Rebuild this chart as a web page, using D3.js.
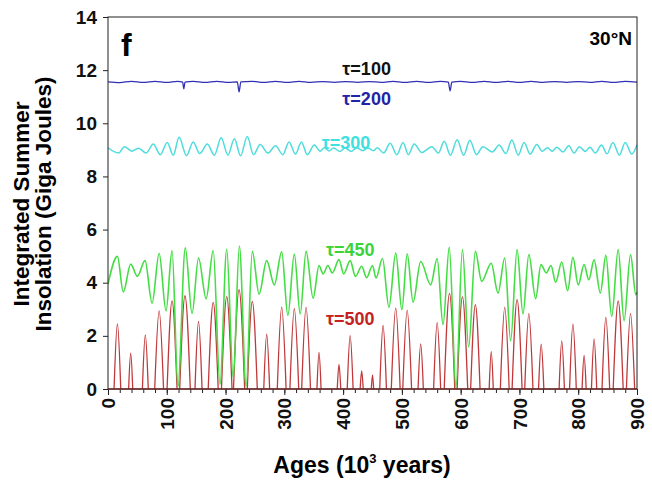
<!DOCTYPE html>
<html>
<head>
<meta charset="utf-8">
<script src="https://cdnjs.cloudflare.com/ajax/libs/d3/7.8.5/d3.min.js"></script>
<style>
    body { margin: 0; background: #fff; }
    text { font-family: "Liberation Sans", Arial, sans-serif; font-weight: bold; }
</style>
</head>
<body>
<div id="chart"></div>
<script>
// tick values
const xTicks = [0, 100, 200, 300, 400, 500, 600, 700, 800, 900];
const xMinorTicks = d3.range(0, 901, 20);
const yTicks = [0, 2, 4, 6, 8, 10, 12, 14];

// tau = 200 (tau = 100 lies under it) : [age, GJ]
const tau200 = [[0,11.56],[20,11.53],[40,11.58],[60,11.54],[80,11.58],[100,11.54],[118,11.58],[127,11.55],[129,11.30],[131,11.55],
    [145,11.58],[165,11.54],[185,11.58],[205,11.54],[220,11.56],[223,11.18],[226,11.56],[245,11.58],[265,11.54],[285,11.58],
    [305,11.54],[325,11.58],[345,11.54],[365,11.57],[385,11.54],[405,11.57],[425,11.54],[445,11.57],[465,11.54],[485,11.58],
    [505,11.54],[525,11.58],[545,11.54],[565,11.58],[579,11.55],[582,11.22],[585,11.55],[600,11.58],[620,11.54],[640,11.58],
    [660,11.54],[680,11.58],[700,11.54],[720,11.58],[740,11.54],[760,11.57],[780,11.54],[800,11.57],[820,11.54],[840,11.58],
    [860,11.54],[880,11.58],[900,11.55]];

// tau = 300 : peaks and troughs [age, GJ]
const tau300 = [[0,9.08],[18,8.88],[28,9.12],[40.6,8.95],[52,9.06],[65,8.88],[77,9.22],[89,8.82],[100.7,9.28],[111,8.80],
    [121,9.47],[133.5,8.78],[145,9.30],[156,8.86],[169,9.22],[181,8.80],[192.5,9.46],[204,8.80],[215,9.42],[225.5,8.78],
    [237,9.50],[247.5,8.82],[259,9.20],[272,8.88],[285,9.15],[297.5,8.82],[308,9.30],[319,8.84],[329,9.30],[339,8.82],
    [351,9.18],[361,8.95],[368,9.08],[376,8.96],[383.6,9.07],[395,8.94],[403,9.08],[414,8.94],[423,9.08],[433.6,8.97],
    [442,9.07],[452,8.97],[458,9.08],[469,8.88],[480,9.25],[491.5,8.82],[502,9.28],[511,8.82],[521,9.22],[534,8.90],
    [551,9.12],[562,8.88],[572,9.32],[582.6,8.80],[594,9.38],[605,8.80],[615.6,9.36],[627,8.82],[637.7,9.12],[654,8.92],
    [665.5,9.18],[677,8.86],[687,9.37],[698,8.80],[708,9.28],[718,8.84],[729.6,9.20],[738.6,8.95],[747.7,9.08],[755.7,8.95],
    [763.6,9.10],[774,8.92],[784,9.15],[793,8.88],[802,9.12],[812,8.94],[820,9.10],[829,8.88],[839.6,9.18],[849,8.85],
    [859,9.28],[870,8.80],[880,9.28],[891,8.84],[900,9.18]];

// tau = 450 : peaks and troughs [age, GJ]
const tau450 = [[0,3.95],[16,4.99],[26,3.65],[38.6,4.70],[50,4.24],[63,4.83],[75,3.23],[87,5.11],[98.7,2.94],[109,5.21],
    [119,0.09],[131.5,5.31],[143,2.84],[154,4.93],[167,3.40],[179,5.21],[190.5,0.18],[202,5.26],[213,0.40],[223.5,5.38],
    [235,0.09],[245.5,5.18],[257,3.57],[270,4.83],[283,3.92],[295.5,5.16],[306,2.77],[317,5.08],[327,2.82],[337,5.18],
    [349,3.42],[359,4.65],[366,4.33],[374,4.65],[381.6,4.37],[393,4.87],[401,4.33],[412,4.83],[421,4.24],[431.6,4.62],
    [440,4.19],[450,4.65],[456,4.18],[467,4.91],[478,3.07],[489.5,5.12],[500,2.98],[509,5.09],[519,3.27],[532,4.80],
    [549,3.92],[560,4.91],[570,2.42],[580.6,5.33],[592,0.05],[603,5.25],[613.6,1.58],[625,5.18],[635.7,4.05],[652,4.73],
    [663.5,3.61],[675,4.93],[685,1.81],[696,5.25],[706,2.82],[716,5.06],[727.6,3.40],[736.6,4.68],[745.7,4.37],[753.7,4.65],
    [761.6,4.02],[772,4.78],[782,3.70],[791,4.96],[800,3.92],[810,4.68],[818,4.11],[827,4.86],[837.6,3.61],[847,5.03],
    [857,2.73],[868,5.25],[878,2.57],[889,5.06],[898,3.55],[900,3.65]];

// tau = 500 : zero except for humps [start age, peak age, peak GJ, end age]
const tau500Humps = [[10.3,16,2.45,21.7],[35.1,38.6,1.35,42.1],[58.5,63.5,2.04,68.5],[79.5,87,2.94,94.5],[100.5,109,3.32,117.5],
    [122,131,3.51,140],[148,154,2.54,160],[170.5,179,3.26,187.5],[193,202,3.48,211],[213.5,223,3.74,232.5],
    [237,245.5,3.30,254],[265,270,2.06,275],[288,295.5,3.08,303],[309.5,317,3.02,324.5],[329.5,337,3.07,344.5],
    [355.5,359,1.38,362.5],[390,393,0.93,396],[407,412,2.01,417],[429,431.6,0.68,434.2],[448,450,0.53,452],
    [462.3,468,2.39,473.7],[482,489.5,3.04,497],[501.5,509,2.96,516.5],[527.5,532,1.70,536.5],[554,560,2.50,566],
    [572,581,3.60,590],[594,603,3.47,612],[617,625,3.17,633],[648.5,652,1.41,655.5],[667.5,675,3.07,682.5],
    [687.5,696,3.36,704.5],[709,716,2.84,723],[732.5,737,1.69,741.5],[767.5,772,1.81,776.5],[785.3,791,2.44,796.7],
    [806.5,810,1.26,813.5],[822.5,827,1.89,831.5],[840.5,847,2.69,853.5],[859.5,868,3.32,876.5],[882,889,2.84,896]];
const tau500Base = [[0,0],[900,0]];

const labels = [
    {text: "\u03C4=100", age: 440, val: 11.8, color: "#111"},
    {text: "\u03C4=200", age: 440, val: 10.7, color: "#2323a8"},
    {text: "\u03C4=300", age: 405, val: 9.05, color: "#3ee0e0"},
    {text: "\u03C4=450", age: 412, val: 5.0, color: "#3ad43a"},
    {text: "\u03C4=500", age: 412, val: 2.4, color: "#c42222"}
];

const width = 652, height = 484;
const margin = {top: 17, right: 15, bottom: 95, left: 108};

const svg = d3.select("#chart")
    .append("svg")
    .attr("width", width)
    .attr("height", height);

const x = d3.scaleLinear()
    .domain([0, 900])
    .range([margin.left, width - margin.right]);

const y = d3.scaleLinear()
    .domain([0, 14])
    .range([height - margin.bottom, margin.top]);

// axes
const yAxis = svg.append("g")
    .attr("transform", `translate(${margin.left},0)`)
    .call(d3.axisLeft(y).tickValues(yTicks).tickSize(5).tickPadding(6).tickSizeOuter(0));

const xMinor = svg.append("g")
    .attr("transform", `translate(0,${y(0)})`)
    .call(d3.axisBottom(x).tickValues(xMinorTicks).tickSize(4).tickFormat("").tickSizeOuter(0));

const xAxis = svg.append("g")
    .attr("transform", `translate(0,${y(0)})`)
    .call(d3.axisBottom(x).tickValues(xTicks).tickSize(6).tickSizeOuter(0));

xAxis.selectAll("text")
    .attr("transform", "rotate(-90)")
    .attr("x", -9)
    .attr("y", 0)
    .attr("dy", "0.35em")
    .style("text-anchor", "end");

svg.selectAll(".domain").remove();
svg.selectAll(".tick line").attr("stroke", "#222");
svg.selectAll(".tick text")
    .style("font-size", "19px")
    .style("font-weight", "bold")
    .attr("fill", "#111");

// lines
const line = d3.line()
    .x(d => x(d[0]))
    .y(d => y(d[1]))
    .curve(d3.curveMonotoneX);

svg.append("path")
    .datum(tau300)
    .attr("fill", "none")
    .attr("stroke", "#4edcdc")
    .attr("stroke-width", 1.5)
    .attr("d", line);

svg.append("path")
    .datum(tau200)
    .attr("fill", "none")
    .attr("stroke", "#3030b4")
    .attr("stroke-width", 1.3)
    .attr("d", line);

const hump = d3.line()
    .x(d => x(d[0]))
    .y(d => y(d[1]))
    .curve(d3.curveNatural);

svg.append("path")
    .datum(tau500Base)
    .attr("fill", "none")
    .attr("stroke", "#c0383a")
    .attr("stroke-width", 1.3)
    .attr("d", d3.line().x(d => x(d[0])).y(d => y(d[1])));

svg.selectAll(".hump")
    .data(tau500Humps)
    .enter()
    .append("path")
    .attr("class", "hump")
    .attr("fill", "none")
    .attr("stroke", "#c0383a")
    .attr("stroke-width", 1.3)
    .attr("d", d => hump([[d[0], 0], [d[1], d[2]], [d[3], 0]]));

svg.append("path")
    .datum(tau450)
    .attr("fill", "none")
    .attr("stroke", "#44dd44")
    .attr("stroke-width", 1.6)
    .attr("d", line);

// frame
svg.append("rect")
    .attr("x", x(0))
    .attr("y", y(14))
    .attr("width", x(900) - x(0))
    .attr("height", y(0) - y(14))
    .attr("fill", "none")
    .attr("stroke", "#222")
    .attr("stroke-width", 1);

// series labels
svg.selectAll(".lab")
    .data(labels)
    .enter()
    .append("text")
    .attr("class", "lab")
    .attr("x", d => x(d.age))
    .attr("y", d => y(d.val))
    .attr("text-anchor", "middle")
    .attr("fill", d => d.color)
    .style("font-size", "18px")
    .text(d => d.text);

// panel letter and latitude
svg.append("text")
    .attr("x", 121)
    .attr("y", 56)
    .style("font-size", "32px")
    .text("f");

svg.append("text")
    .attr("x", 632)
    .attr("y", 45)
    .attr("text-anchor", "end")
    .style("font-size", "19px")
    .text("30\u00B0N");

// axis titles
const xTitle = svg.append("text")
    .attr("x", 362)
    .attr("y", 473)
    .attr("text-anchor", "middle")
    .style("font-size", "23px");
xTitle.append("tspan").text("Ages (10");
xTitle.append("tspan").attr("dy", -10).style("font-size", "13px").text("3");
xTitle.append("tspan").attr("dy", 10).text(" years)");

const yTitle = svg.append("text")
    .attr("transform", "translate(29,204) rotate(-90)")
    .attr("text-anchor", "middle")
    .style("font-size", "22.5px");
yTitle.append("tspan").attr("x", 0).attr("y", 0).text("Integrated Summer");
yTitle.append("tspan").attr("x", 0).attr("y", 22).text("Insolation (Giga Joules)");
</script>
</body>
</html>
